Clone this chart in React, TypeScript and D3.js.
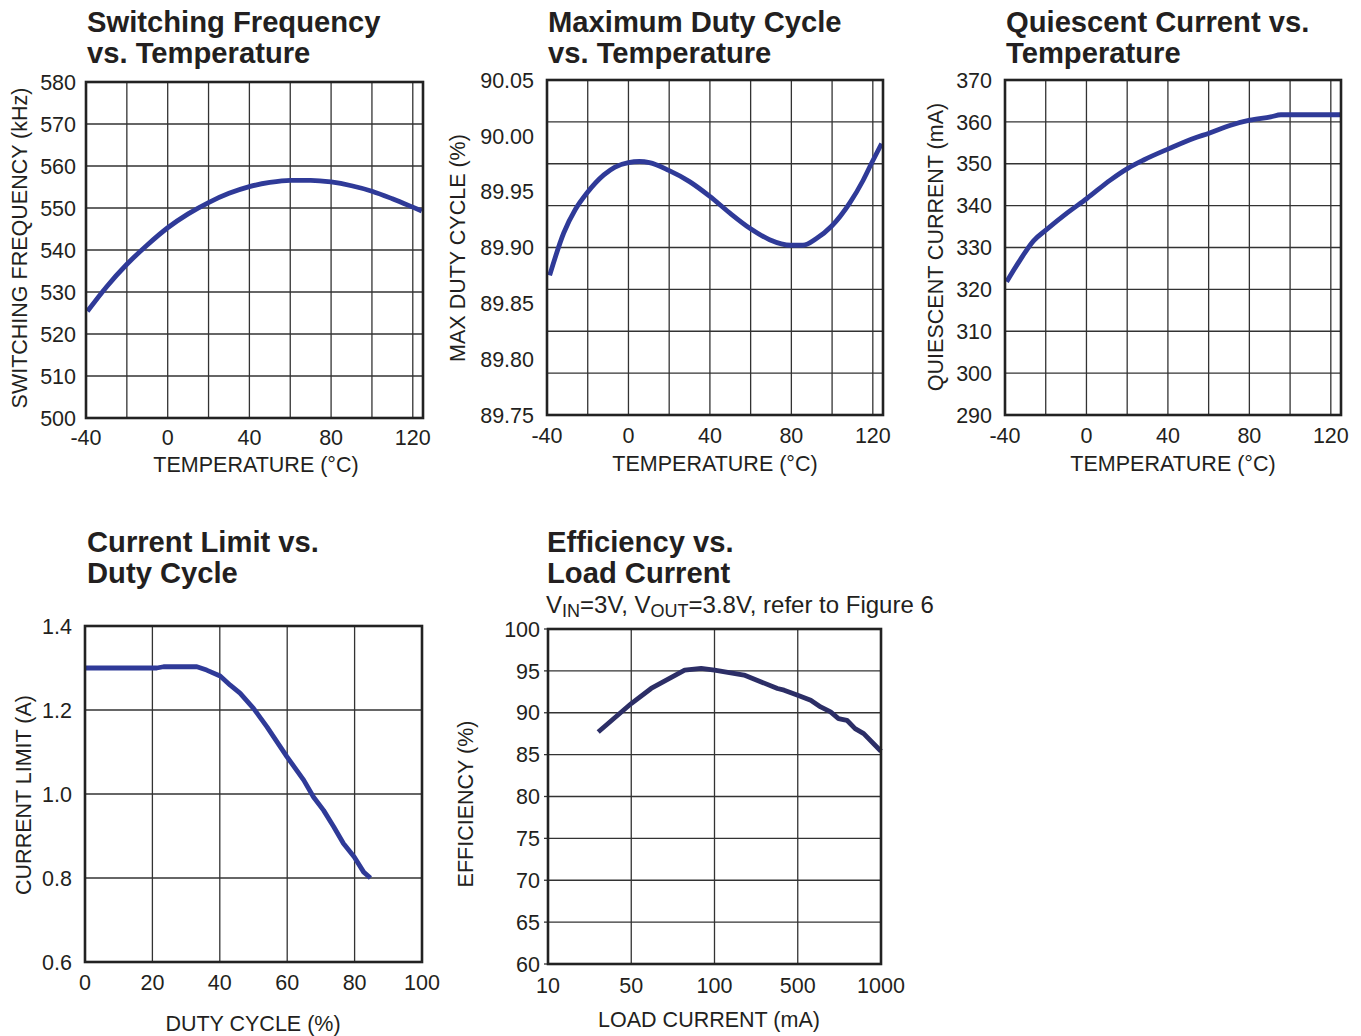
import * as d3 from "d3";

// ---- data ----
const tempTicks = [-40, 0, 40, 80, 120];
const tempGrid = [-20, 0, 20, 40, 60, 80, 100, 120];

const sfTemp = [-39.3, -30, -20, -10, 0, 10, 20, 30, 40, 50, 60, 70, 80, 90, 100, 110, 120, 124.4];
const sfFreq = [525.4, 531.2, 536.6, 541.2, 545.3, 548.6, 551.3, 553.5, 555.1, 556.1, 556.6, 556.6, 556.2, 555.3, 554.0, 552.2, 550.2, 549.3];
const sfTicks = [500, 510, 520, 530, 540, 550, 560, 570, 580];

const mdTemp = [-38.7, -31.8, -26.1, -20.3, -12.1, -6.6, 0, 5.4, 10.3, 19.8, 30, 39.8, 49.7, 59.8, 69.3, 79.7, 85.7, 92.3, 99.7, 108.7, 115.2, 119.8, 124.3];
const mdDuty = [89.875, 89.913, 89.934, 89.949, 89.965, 89.972, 89.976, 89.977, 89.976, 89.969, 89.959, 89.946, 89.931, 89.917, 89.907, 89.902, 89.902, 89.908, 89.919, 89.94, 89.96, 89.977, 89.993];
const mdTicks = [89.75, 89.8, 89.85, 89.9, 89.95, 90.0, 90.05];

const qcTemp = [-39.2, -32.6, -26.0, -19.8, -9.6, 0.2, 11.7, 20.3, 28.1, 40, 52.8, 60.2, 70.8, 80.2, 90.5, 95.5, 125];
const qcCur = [321.8, 327.0, 331.6, 334.2, 338.2, 341.7, 346.1, 348.9, 350.9, 353.5, 356.1, 357.3, 359.2, 360.4, 361.2, 361.7, 361.7];
const qcTicks = [290, 300, 310, 320, 330, 340, 350, 360, 370];

const clDuty = [0.3, 19.8, 21.3, 23.3, 33.2, 36.1, 40.1, 43.1, 46.0, 50, 54, 59.9, 64.9, 67.8, 70.8, 73.8, 76.7, 79.9, 82.7, 84.7];
const clAmp = [1.3, 1.3, 1.3, 1.303, 1.303, 1.295, 1.281, 1.259, 1.24, 1.204, 1.16, 1.089, 1.033, 0.993, 0.961, 0.922, 0.882, 0.85, 0.814, 0.8];
const clXTicks = [0, 20, 40, 60, 80, 100];
const clYTicks = [0.6, 0.8, 1.0, 1.2, 1.4];

const effLoad = [26.4, 50, 59, 78, 89.5, 100, 177, 338, 384, 500, 557, 605, 657, 702, 753, 806, 866, 1000];
const effPct = [87.7, 91.1, 92.9, 95.1, 95.3, 95.1, 94.5, 92.9, 92.7, 92.1, 91.5, 90.7, 90.1, 89.3, 89.1, 88.1, 87.5, 85.4];
const effXTicks = [10, 50, 100, 500, 1000];
const effYTicks = [60, 65, 70, 75, 80, 85, 90, 95, 100];

const FONT = "'Liberation Sans', Arial, Helvetica, sans-serif";
const INK = "#231f20";
const BLUE = "#2f3a98";
const NAVY = "#2c2e66";
const TICK_SIZE = 21.5;

type Box = { left: number; right: number; top: number; bottom: number };

type PanelProps = {
  box: Box;
  x: (v: number) => number;
  y: (v: number) => number;
  xs: number[];
  ys: number[];
  xTicks: number[];
  xGrid: number[];
  yTicks: number[];
  yGrid: number[];
  fmtY: (v: number) => string;
  color: string;
  curve: d3.CurveFactory;
  title: string[];
  titleX: number;
  titleY: number;
  yTitle: string;
  yTitleX: number;
  yTitleY: number;
  xTitle: string;
  xTitleX: number;
  xTitleY: number;
  xTickY: number;
  yTickX: number;
  tickMarks?: boolean;
};

function Panel(p: PanelProps) {
  const { box } = p;
  const pts = p.xs.map((v, i) => [p.x(v), p.y(p.ys[i])] as [number, number]);
  const path = d3.line().curve(p.curve)(pts) ?? "";
  return (
    <g fontFamily={FONT} fill={INK}>
      {p.title.map((t, i) => (
        <text key={t} x={p.titleX} y={p.titleY + i * 31.5} fontSize={29.2} fontWeight={700}>
          {t}
        </text>
      ))}
      {p.xGrid.map((v) => (
        <line key={"xg" + v} x1={p.x(v)} x2={p.x(v)} y1={box.top} y2={box.bottom} stroke="#333" strokeWidth={1.3} />
      ))}
      {p.yGrid.map((v) => (
        <line key={"yg" + v} x1={box.left} x2={box.right} y1={p.y(v)} y2={p.y(v)} stroke="#333" strokeWidth={1.3} />
      ))}
      {p.tickMarks &&
        p.yTicks.map((v) => (
          <line key={"tm" + v} x1={box.left - 4} x2={box.left} y1={p.y(v)} y2={p.y(v)} stroke="#333" strokeWidth={1.3} />
        ))}
      <path d={path} fill="none" stroke={p.color} strokeWidth={4.8} strokeLinejoin="round" />
      <rect
        x={box.left}
        y={box.top}
        width={box.right - box.left}
        height={box.bottom - box.top}
        fill="none"
        stroke="#222"
        strokeWidth={2.6}
      />
      {p.yTicks.map((v) => (
        <text key={"yt" + v} x={p.yTickX} y={p.y(v)} dy="0.36em" fontSize={TICK_SIZE} textAnchor="end">
          {p.fmtY(v)}
        </text>
      ))}
      {p.xTicks.map((v) => (
        <text key={"xt" + v} x={p.x(v)} y={p.xTickY} fontSize={TICK_SIZE} textAnchor="middle">
          {v}
        </text>
      ))}
      <text x={p.xTitleX} y={p.xTitleY} fontSize={TICK_SIZE} textAnchor="middle">
        {p.xTitle}
      </text>
      <text
        transform={`translate(${p.yTitleX},${p.yTitleY}) rotate(-90)`}
        fontSize={TICK_SIZE}
        textAnchor="middle"
      >
        {p.yTitle}
      </text>
    </g>
  );
}

export default function App() {
  const b1 = { left: 86, right: 423, top: 82, bottom: 418 };
  const b2 = { left: 547, right: 883, top: 80, bottom: 415 };
  const b3 = { left: 1005, right: 1341, top: 80, bottom: 415 };
  const b4 = { left: 85, right: 422, top: 626, bottom: 962 };
  const b5 = { left: 548, right: 881, top: 629, bottom: 964 };

  const tx = (b: Box) => d3.scaleLinear().domain([-40, 125]).range([b.left, b.right]);

  const x1 = tx(b1);
  const y1 = d3.scaleLinear().domain([500, 580]).range([b1.bottom, b1.top]);
  const x2 = tx(b2);
  const y2 = d3.scaleLinear().domain([89.75, 90.05]).range([b2.bottom, b2.top]);
  const y2Grid = d3.range(1, 8).map((i) => 89.75 + (i * 0.3) / 8);
  const x3 = tx(b3);
  const y3 = d3.scaleLinear().domain([290, 370]).range([b3.bottom, b3.top]);
  const x4 = d3.scaleLinear().domain([0, 100]).range([b4.left, b4.right]);
  const y4 = d3.scaleLinear().domain([0.6, 1.4]).range([b4.bottom, b4.top]);
  const w5 = b5.right - b5.left;
  const x5 = d3
    .scaleLog()
    .domain(effXTicks)
    .range(effXTicks.map((_, i) => b5.left + (i * w5) / (effXTicks.length - 1)));
  const y5 = d3.scaleLinear().domain([60, 100]).range([b5.bottom, b5.top]);

  return (
    <svg
      width={1361}
      height={1036}
      style={{ position: "absolute", left: 0, top: 0, background: "#fff" }}
    >
      <Panel
        box={b1} x={x1} y={y1} xs={sfTemp} ys={sfFreq}
        xTicks={tempTicks} xGrid={tempGrid} yTicks={sfTicks} yGrid={sfTicks.slice(1, -1)}
        fmtY={(v) => String(v)} color={BLUE} curve={d3.curveMonotoneX}
        title={["Switching Frequency", "vs. Temperature"]} titleX={87} titleY={31.5}
        yTitle="SWITCHING FREQUENCY (kHz)" yTitleX={27} yTitleY={248}
        xTitle="TEMPERATURE (°C)" xTitleX={256} xTitleY={472} xTickY={445} yTickX={76}
      />
      <Panel
        box={b2} x={x2} y={y2} xs={mdTemp} ys={mdDuty}
        xTicks={tempTicks} xGrid={tempGrid} yTicks={mdTicks} yGrid={y2Grid}
        fmtY={(v) => v.toFixed(2)} color={BLUE} curve={d3.curveMonotoneX}
        title={["Maximum Duty Cycle", "vs. Temperature"]} titleX={548} titleY={31.5}
        yTitle="MAX DUTY CYCLE (%)" yTitleX={465} yTitleY={248}
        xTitle="TEMPERATURE (°C)" xTitleX={715} xTitleY={471} xTickY={443} yTickX={534}
      />
      <Panel
        box={b3} x={x3} y={y3} xs={qcTemp} ys={qcCur}
        xTicks={tempTicks} xGrid={tempGrid} yTicks={qcTicks} yGrid={qcTicks.slice(1, -1)}
        fmtY={(v) => String(v)} color={BLUE} curve={d3.curveMonotoneX}
        title={["Quiescent Current vs.", "Temperature"]} titleX={1006} titleY={31.5}
        yTitle="QUIESCENT CURRENT (mA)" yTitleX={943} yTitleY={247}
        xTitle="TEMPERATURE (°C)" xTitleX={1173} xTitleY={471} xTickY={443} yTickX={992}
      />
      <Panel
        box={b4} x={x4} y={y4} xs={clDuty} ys={clAmp}
        xTicks={clXTicks} xGrid={clXTicks.slice(1, -1)} yTicks={clYTicks} yGrid={clYTicks.slice(1, -1)}
        fmtY={(v) => v.toFixed(1)} color={BLUE} curve={d3.curveLinear}
        title={["Current Limit vs.", "Duty Cycle"]} titleX={87} titleY={551.5}
        yTitle="CURRENT LIMIT (A)" yTitleX={31} yTitleY={795}
        xTitle="DUTY CYCLE (%)" xTitleX={253} xTitleY={1031} xTickY={990} yTickX={72}
      />
      <Panel
        box={b5} x={x5} y={y5} xs={effLoad} ys={effPct}
        xTicks={effXTicks} xGrid={effXTicks.slice(1, -1)} yTicks={effYTicks} yGrid={effYTicks.slice(1, -1)}
        fmtY={(v) => String(v)} color={NAVY} curve={d3.curveLinear}
        title={["Efficiency vs.", "Load Current"]} titleX={547} titleY={551.5}
        yTitle="EFFICIENCY (%)" yTitleX={473} yTitleY={804}
        xTitle="LOAD CURRENT (mA)" xTitleX={709} xTitleY={1027} xTickY={993} yTickX={540}
        tickMarks
      />
      <text x={546} y={613} fontFamily={FONT} fontSize={24} fill={INK}>
        V<tspan fontSize={18} dy={4}>IN</tspan>
        <tspan dy={-4}>=3V, V</tspan>
        <tspan fontSize={18} dy={4}>OUT</tspan>
        <tspan dy={-4}>=3.8V, refer to Figure 6</tspan>
      </text>
    </svg>
  );
}
